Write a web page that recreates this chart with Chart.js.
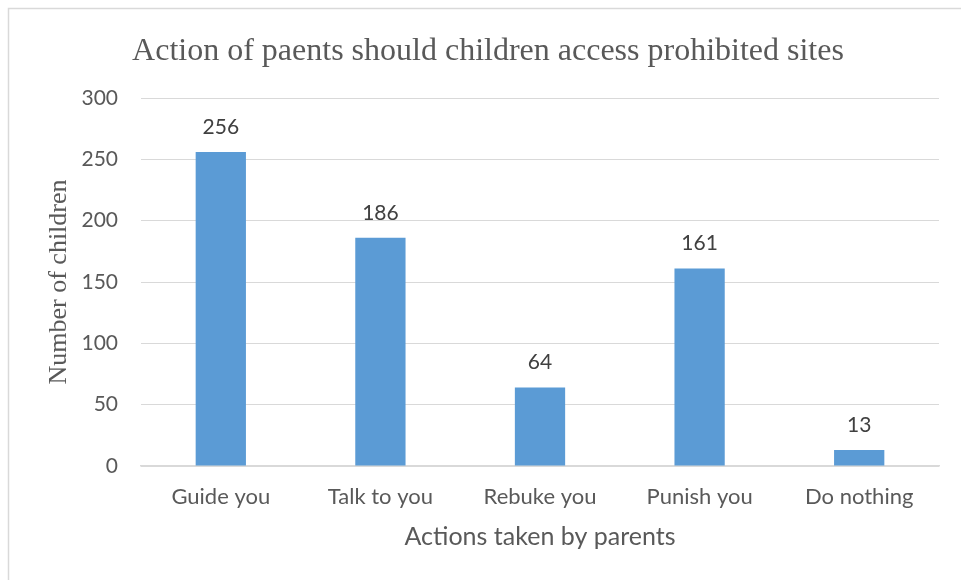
<!DOCTYPE html>
<html>
<head>
<meta charset="utf-8">
<script src="https://cdn.jsdelivr.net/npm/chart.js@4/dist/chart.umd.min.js"></script>
<style>
  html, body { margin: 0; padding: 0; background: #ffffff; }
  #wrap { position: relative; width: 961px; height: 580px; }
</style>
</head>
<body>
<div id="wrap"><canvas id="chart" width="961" height="580"></canvas></div>
<script>
// Survey responses: what parents do when a child visits a prohibited site
const chartTitle = 'Action of paents should children access prohibited sites';
const categories = ['Guide you', 'Talk to you', 'Rebuke you', 'Punish you', 'Do nothing'];
const childCounts = [256, 186, 64, 161, 13];
const yAxisMin = 0;
const yAxisMax = 300;
const yAxisStep = 50;

const serif = '"Liberation Serif", "Times New Roman", serif';
const sans = 'Lato, "Open Sans", sans-serif';

// Thin frame along the top and left edge
const framePlugin = {
  id: 'frame',
  beforeDraw(chart) {
    const ctx = chart.ctx;
    ctx.save();
    ctx.fillStyle = '#ffffff';
    ctx.fillRect(0, 0, chart.width, chart.height);
    ctx.strokeStyle = '#d9d9d9';
    ctx.lineWidth = 1.5;
    ctx.beginPath();
    ctx.moveTo(8.5, chart.height);
    ctx.lineTo(8.5, 8.5);
    ctx.lineTo(chart.width, 8.5);
    ctx.stroke();
    ctx.restore();
  }
};

// Chart heading
const headingPlugin = {
  id: 'heading',
  afterDraw(chart) {
    const ctx = chart.ctx;
    ctx.save();
    ctx.font = '32px ' + serif;
    ctx.fillStyle = '#595959';
    ctx.textAlign = 'center';
    ctx.textBaseline = 'alphabetic';
    ctx.fillText(chartTitle, 488, 60);
    ctx.restore();
  }
};

// Value above each bar
const valueLabelPlugin = {
  id: 'valueLabels',
  afterDatasetsDraw(chart) {
    const ctx = chart.ctx;
    const meta = chart.getDatasetMeta(0);
    const data = chart.data.datasets[0].data;
    ctx.save();
    ctx.font = '21px ' + sans;
    ctx.fillStyle = '#404040';
    ctx.textAlign = 'center';
    ctx.textBaseline = 'middle';
    meta.data.forEach((bar, i) => {
      ctx.fillText(String(data[i]), bar.x, bar.y - 25);
    });
    ctx.restore();
  }
};

new Chart(document.getElementById('chart'), {
  type: 'bar',
  data: {
    labels: categories,
    datasets: [{
      data: childCounts,
      backgroundColor: '#5b9bd5',
      borderWidth: 0,
      categoryPercentage: 1,
      barPercentage: 0.315
    }]
  },
  options: {
    responsive: false,
    animation: false,
    layout: { padding: { top: 98, right: 22, bottom: 0, left: 0 } },
    plugins: {
      legend: { display: false },
      title: { display: false },
      tooltip: { enabled: false }
    },
    scales: {
      x: {
        grid: { display: false, drawTicks: false },
        border: { display: true, color: '#d9d9d9', width: 1.5 },
        ticks: {
          color: '#595959',
          font: { family: sans, size: 22 },
          padding: 18,
          maxRotation: 0,
          autoSkip: false
        },
        title: {
          display: true,
          text: 'Actions taken by parents',
          color: '#595959',
          font: { family: sans, size: 25 },
          padding: { top: 4, bottom: 28 }
        },
        afterFit(scale) { scale.height = 114; }
      },
      y: {
        min: yAxisMin,
        max: yAxisMax,
        grid: { color: '#d9d9d9', lineWidth: 1, drawTicks: false },
        border: { display: false },
        ticks: {
          stepSize: yAxisStep,
          color: '#595959',
          font: { family: sans, size: 21 },
          padding: 23
        },
        title: {
          display: true,
          text: 'Number of children',
          color: '#595959',
          font: { family: serif, size: 26 },
          padding: { top: 44, bottom: 0 }
        },
        afterFit(scale) { scale.width = 141; }
      }
    }
  },
  plugins: [framePlugin, headingPlugin, valueLabelPlugin]
});
</script>
</body>
</html>
